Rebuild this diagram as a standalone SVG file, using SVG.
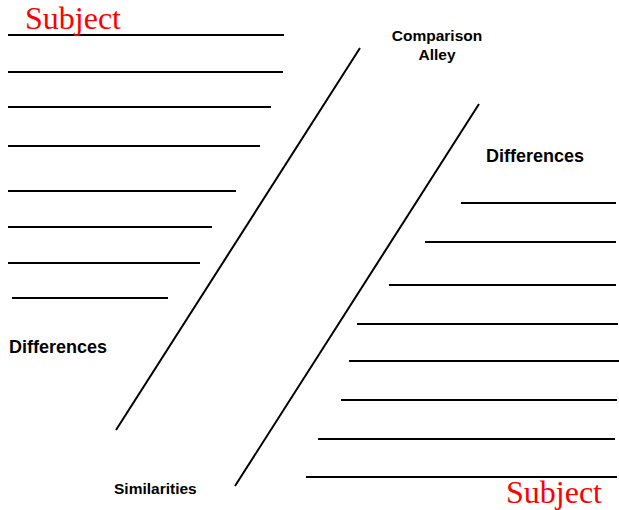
<svg xmlns="http://www.w3.org/2000/svg" width="619" height="510" viewBox="0 0 619 510">
<style>
.ln{stroke:#000;stroke-width:2;fill:none}
.subj{font-family:"Liberation Serif","Times New Roman",serif;fill:#ff0000}
.lbl{font-family:"Liberation Sans",Arial,sans-serif;font-weight:bold;fill:#000}
</style>
<rect width="619" height="510" fill="#fff"/>
<g id="left-lines">
<line class="ln" x1="8" y1="35" x2="284" y2="35"/>
<line class="ln" x1="8" y1="72" x2="283" y2="72"/>
<line class="ln" x1="8" y1="107" x2="271" y2="107"/>
<line class="ln" x1="8" y1="146" x2="260" y2="146"/>
<line class="ln" x1="8" y1="191" x2="236" y2="191"/>
<line class="ln" x1="8" y1="227" x2="212" y2="227"/>
<line class="ln" x1="8" y1="263" x2="200" y2="263"/>
<line class="ln" x1="12" y1="298" x2="168" y2="298"/>
</g>
<g id="alley">
<line class="ln" x1="360" y1="48" x2="116" y2="430"/>
<line class="ln" x1="479" y1="104" x2="235" y2="486"/>
</g>
<g id="right-lines">
<line class="ln" x1="461" y1="203" x2="616" y2="203"/>
<line class="ln" x1="425" y1="242" x2="616" y2="242"/>
<line class="ln" x1="389" y1="285" x2="616" y2="285" stroke-width="2.5"/>
<line class="ln" x1="357" y1="324" x2="618" y2="324"/>
<line class="ln" x1="349" y1="361" x2="619" y2="361"/>
<line class="ln" x1="341" y1="400" x2="617" y2="400"/>
<line class="ln" x1="318" y1="439" x2="615" y2="439"/>
<line class="ln" x1="306" y1="477" x2="617" y2="477"/>
</g>
<g id="labels">
<text class="subj" x="25" y="29" font-size="32">Subject</text>
<text class="subj" x="506" y="503" font-size="32">Subject</text>
<text class="lbl" x="437" y="41" font-size="15.5" text-anchor="middle">Comparison</text>
<text class="lbl" x="437" y="60" font-size="15.5" text-anchor="middle">Alley</text>
<text class="lbl" x="486" y="162" font-size="18">Differences</text>
<text class="lbl" x="9" y="353" font-size="18">Differences</text>
<text class="lbl" x="114" y="494" font-size="15.5">Similarities</text>
</g>
</svg>
